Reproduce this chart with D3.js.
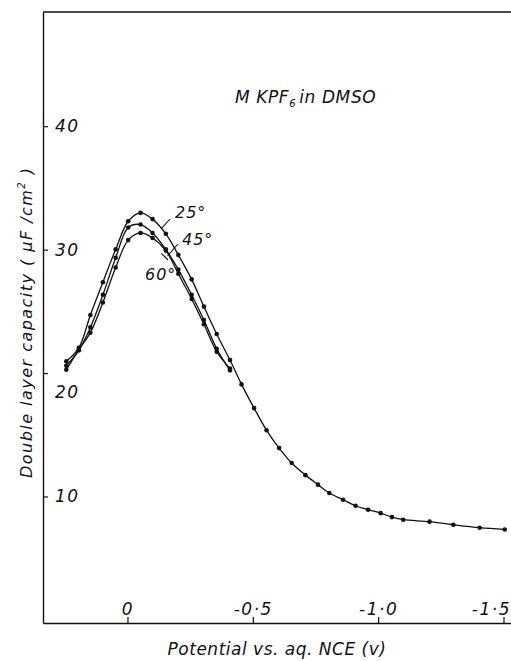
<!DOCTYPE html>
<html>
<head>
<meta charset="utf-8">
<script src="https://cdn.jsdelivr.net/npm/d3@7"></script>
<style>
  body { margin: 0; background: #fff; }
  text { font-family: "DejaVu Sans", sans-serif; font-style: italic; fill: #111; }
</style>
</head>
<body>
<div id="gr"></div>
<script>
// potential (V vs aq. NCE) and capacity (uF/cm2)
var potential25 = [0.244, 0.194, 0.148, 0.098, 0.047, -0.003, -0.052, -0.1, -0.153, -0.203, -0.256, -0.305, -0.356, -0.409,
  -0.455, -0.505, -0.555, -0.605, -0.655, -0.71, -0.76, -0.805, -0.86, -0.91, -0.96, -1.01, -1.055, -1.1, -1.205, -1.3, -1.405, -1.505];
var capacity25 = [20.95, 22.04, 24.7, 27.36, 30.02, 32.3, 32.98, 32.47, 31.28, 29.57, 27.59, 25.38, 23.16, 21.05,
  19.08, 17.16, 15.36, 13.92, 12.71, 11.73, 10.96, 10.28, 9.74, 9.25, 8.93, 8.65, 8.33, 8.12, 7.96, 7.71, 7.47, 7.33];

var potential45 = [0.244, 0.194, 0.148, 0.098, 0.047, -0.003, -0.052, -0.1, -0.153, -0.203, -0.256, -0.305, -0.356, -0.409];
var capacity45 = [20.6, 21.84, 23.7, 26.34, 29.34, 31.79, 32.03, 31.35, 30.02, 28.38, 26.34, 24.29, 21.97, 20.22];
var capacity60 = [20.27, 21.9, 23.27, 25.72, 28.55, 30.77, 31.35, 30.94, 29.92, 28.04, 26.0, 23.95, 21.73, 20.36];

var xTicks = [0, -0.5, -1.0, -1.5];
var xTickLabels = ["0", "-0\u00b75", "-1\u00b70", "-1\u00b75"];
var yTicks = [10, 20, 30, 40];

var width = 511, height = 661;
var plot = { left: 43, right: 511, top: 12, bottom: 623 };

var svg = d3.select("#gr").append("svg").
attr("width", width).
attr("height", height);

var x = d3.scaleLinear().domain([0.337, -1.53]).range([plot.left, plot.right]);
var y = d3.scaleLinear().domain([-0.25, 49.25]).range([plot.bottom, plot.top]);

function toPoints(px, py) {
  return px.map(function (p, i) {return { p: p, c: py[i] };});
}

var series = [
  toPoints(potential25, capacity25),
  toPoints(potential45, capacity45),
  toPoints(potential45, capacity60)
];

// frame
svg.append("line").
attr("x1", plot.left).attr("x2", plot.right).
attr("y1", plot.top).attr("y2", plot.top).
attr("stroke", "#111").attr("stroke-width", 1.4);

var xAxis = d3.axisTop(x).tickValues(xTicks).
tickFormat(function (d, i) {return xTickLabels[i];}).
tickSizeInner(6).tickSizeOuter(0).tickPadding(2);

var yAxis = d3.axisRight(y).tickValues(yTicks).
tickSizeInner(5).tickSizeOuter(0).tickPadding(7);

var gx = svg.append("g").
attr("transform", "translate(0," + plot.bottom + ")").
call(xAxis);

var gy = svg.append("g").
attr("transform", "translate(" + plot.left + ",0)").
call(yAxis);

[gx, gy].forEach(function (g) {
  g.select(".domain").attr("stroke", "#111").attr("stroke-width", 1.4);
  g.selectAll(".tick line").attr("stroke", "#111").attr("stroke-width", 1.2);
  g.selectAll(".tick text").
  attr("font-family", "DejaVu Sans").
  attr("font-size", 17).
  attr("letter-spacing", 1.5).
  attr("fill", "#111");
});
// "20" sits just under its tick
gy.selectAll(".tick text").filter(function (d) {return d == 20;}).attr("dy", "1.45em");
// last x label is cut by the page edge in the original, keep it inside here
gx.selectAll(".tick text").filter(function (d) {return d == -1.5;}).
attr("text-anchor", "end").attr("dx", 7);

var line = d3.line().
x(function (d) {return x(d.p);}).
y(function (d) {return y(d.c);}).
curve(d3.curveCatmullRom.alpha(0.5));

series.forEach(function (s) {
  svg.append("path").
  datum(s).
  attr("d", line).
  attr("fill", "none").
  attr("stroke", "#111").
  attr("stroke-width", 1.3);

  svg.selectAll(null).
  data(s).
  enter().
  append("circle").
  attr("cx", function (d) {return x(d.p);}).
  attr("cy", function (d) {return y(d.c);}).
  attr("r", 2.3).
  attr("fill", "#111");
});

// temperature labels with leader lines
var tempLabels = [
  { t: "25\u00b0", p: -0.135, c: 31.7, tx: 175, ty: 218, lx: 170, ly: 219 },
  { t: "45\u00b0", p: -0.16, c: 29.5, tx: 182, ty: 245, lx: 178, ly: 244 },
  { t: "60\u00b0", p: -0.135, c: 29.7, tx: 145, ty: 280, lx: 168, ly: 260 }
];
tempLabels.forEach(function (d) {
  svg.append("line").
  attr("x1", x(d.p)).attr("y1", y(d.c)).
  attr("x2", d.lx).attr("y2", d.ly).
  attr("stroke", "#111").attr("stroke-width", 1.1);
  svg.append("text").
  attr("x", d.tx).attr("y", d.ty).
  attr("font-size", 16).
  attr("letter-spacing", 1).
  text(d.t);
});

// annotation
var note = svg.append("text").
attr("x", 235).attr("y", 103).
attr("font-size", 17).
attr("letter-spacing", 0.6);
note.append("tspan").text("M KPF");
note.append("tspan").attr("font-size", 10).attr("dy", 4).text("6");
note.append("tspan").attr("dy", -4).attr("dx", 3).text("in DMSO");

// axis titles
svg.append("text").
attr("x", 277).attr("y", 655).
attr("text-anchor", "middle").
attr("font-size", 17).
attr("letter-spacing", 0.5).
text("Potential vs. aq. NCE (v)");

var ylab = svg.append("text").
attr("transform", "translate(32,323) rotate(-90)").
attr("text-anchor", "middle").
attr("font-size", 16).
attr("textLength", 310);
ylab.append("tspan").text("Double layer capacity  ( \u03bcF /cm");
ylab.append("tspan").attr("font-size", 10).attr("dy", -7).text("2");
ylab.append("tspan").attr("dy", 7).text(" )");
</script>
</body>
</html>
